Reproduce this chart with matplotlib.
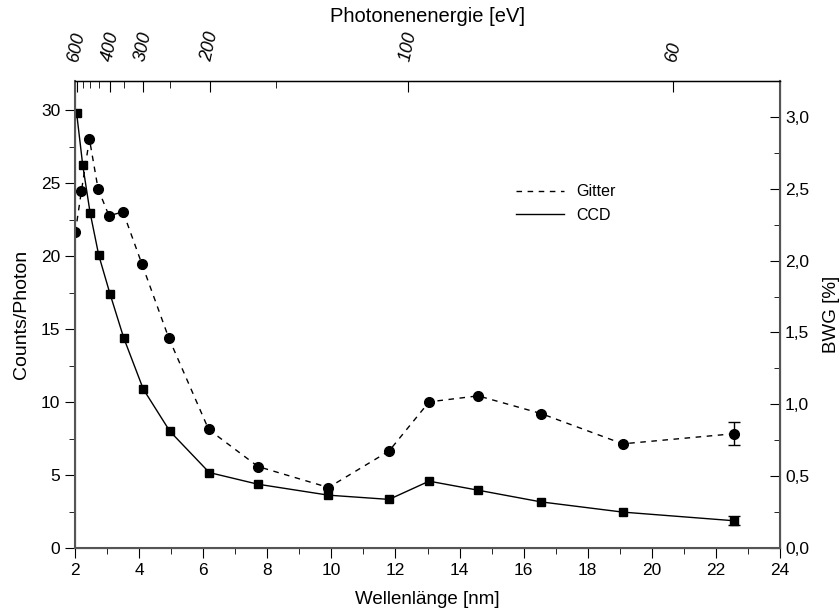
import matplotlib
matplotlib.use('Agg')
import matplotlib.pyplot as plt
from matplotlib.ticker import FixedLocator, MultipleLocator, FuncFormatter
from matplotlib.lines import Line2D

plt.rcParams['font.family'] = ['Liberation Sans', 'DejaVu Sans']

# Wellenlaenge [nm]
wl_ccd = [2.05, 2.24, 2.47, 2.74, 3.09, 3.52, 4.13, 4.96, 6.19, 7.71, 9.91, 11.80, 13.05, 14.58, 16.54, 19.09, 22.55]
wl_gitter = [2.01, 2.20, 2.45, 2.72, 3.06, 3.50, 4.09, 4.92, 6.17, 7.71, 9.91, 11.80, 13.05, 14.58, 16.54, 19.09, 22.55]
# CCD: Counts/Photon (linke Achse)
ccd = [29.82, 26.25, 22.99, 20.07, 17.43, 14.40, 10.89, 8.00, 5.17, 4.37, 3.62, 3.33, 4.58, 3.96, 3.16, 2.46, 1.87]
ccd_err_last = 0.3
# Gitter: BWG [%] (rechte Achse)
gitter = [2.197, 2.485, 2.846, 2.499, 2.313, 2.339, 1.975, 1.465, 0.825, 0.567, 0.421, 0.675, 1.017, 1.059, 0.936, 0.725, 0.795]
gitter_err_last = 0.08

energy_major = [600, 400, 300, 200, 100, 60]
energy_minor = [550, 500, 450, 350, 250, 150]

fig = plt.figure(figsize=(8.4, 6.14), dpi=100)
ax = fig.add_axes([0.0893, 0.1075, 0.8393, 0.7605])
ax2 = ax.twinx()

gray = '#555555'
dash = (0, (4, 4))

ax.plot(wl_ccd, ccd, color='black', lw=1, marker='s', ms=6)
ax.errorbar(wl_ccd[-1:], ccd[-1:], yerr=ccd_err_last, fmt='none', ecolor='black',
            capsize=4, elinewidth=1)
ax2.plot(wl_gitter, gitter, color='black', lw=1, ls=dash, marker='o', ms=7)
ax2.errorbar(wl_gitter[-1:], gitter[-1:], yerr=gitter_err_last, fmt='none', ecolor='black',
             capsize=4, elinewidth=1)

ax.set_xlim(2, 24)
ax.set_ylim(0, 32)
ax2.set_ylim(0, 3.25)

ax.xaxis.set_major_locator(MultipleLocator(2))
ax.xaxis.set_minor_locator(MultipleLocator(1))
ax.yaxis.set_major_locator(MultipleLocator(5))
ax.yaxis.set_minor_locator(MultipleLocator(2.5))
ax2.yaxis.set_major_locator(MultipleLocator(0.5))
ax2.yaxis.set_minor_locator(MultipleLocator(0.25))
ax2.yaxis.set_major_formatter(FuncFormatter(lambda v, p: f'{v:.1f}'.replace('.', ',')))

ax.tick_params(which='major', direction='out', length=7, labelsize=12.5, colors='black')
ax.tick_params(which='minor', direction='out', length=4)
ax2.tick_params(which='major', direction='in', length=7, labelsize=12.5)
ax2.tick_params(which='minor', direction='in', length=4)

for s in ['left', 'bottom', 'right']:
    ax2.spines[s].set_color(gray)
    ax2.spines[s].set_linewidth(1.5)
ax2.spines['top'].set_linewidth(1)

ax.set_xlabel('Wellenlänge [nm]', fontsize=13.5, labelpad=10)
ax.set_ylabel('Counts/Photon', fontsize=14, labelpad=8)
ax2.set_ylabel('BWG [%]', fontsize=13.5, labelpad=10)

# obere Achse: Photonenenergie
ax3 = ax.twiny()
ax3.set_xlim(ax.get_xlim())
ax3.xaxis.set_major_locator(FixedLocator([1240.0 / e for e in energy_major]))
ax3.xaxis.set_minor_locator(FixedLocator([1240.0 / e for e in energy_minor]))
ax3.set_xticklabels([str(e) for e in energy_major], rotation=78, fontsize=13, style='italic')
ax3.tick_params(which='major', direction='in', length=8, pad=13)
ax3.tick_params(which='minor', direction='in', length=5)
ax3.set_xlabel('Photonenenergie [eV]', fontsize=14.5, labelpad=6)
for s in ax3.spines.values():
    s.set_visible(False)

handles = [Line2D([], [], color='black', lw=1, ls=dash), Line2D([], [], color='black', lw=1)]
ax.legend(handles, ['Gitter', 'CCD'], loc='upper left', bbox_to_anchor=(0.605, 0.81),
          frameon=False, fontsize=11.5, handlelength=3, labelspacing=0.55)

fig.savefig('out.png', dpi=100)
